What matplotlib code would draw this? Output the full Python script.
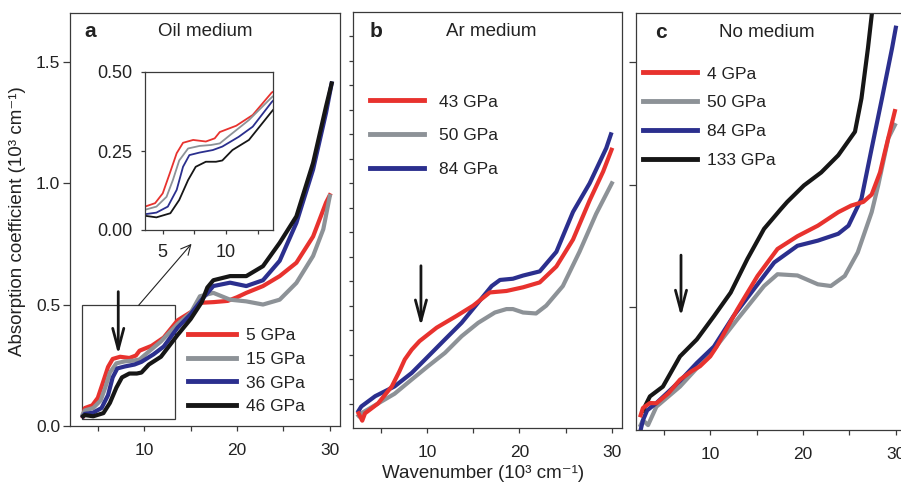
import matplotlib
matplotlib.use("Agg")
import matplotlib.pyplot as plt
from matplotlib.patches import Rectangle

plt.rcParams['font.family'] = ['Liberation Sans', 'DejaVu Sans']

RED = '#e8322e'
GREY = '#8d9297'
BLUE = '#2b2f8e'
BLACK = '#161616'
INK = '#222222'
SPINE = '#3a3a3a'

# ---- panel a : oil medium ----
a_labels = ["5 GPa", "15 GPa", "36 GPa", "46 GPa"]

a5_x = [3.4, 3.6, 4.4, 5.0, 5.56, 6.1, 6.6, 7.4, 8.4, 9.1, 9.5, 10.8, 12.1, 13.6, 15.5, 16.0, 17.5, 19.0, 20.0, 21.0, 22.8, 24.6, 26.4, 28.2, 29.6, 30.0]
a5_y = [0.04, 0.074, 0.085, 0.116, 0.18, 0.243, 0.276, 0.285, 0.28, 0.29, 0.31, 0.33, 0.364, 0.435, 0.48, 0.507, 0.51, 0.515, 0.53, 0.548, 0.576, 0.617, 0.672, 0.78, 0.92, 0.95]

a15_x = [3.4, 3.6, 4.5, 5.3, 5.8, 6.3, 7.0, 7.9, 8.8, 9.5, 10.3, 11.8, 13.6, 15.0, 16.0, 17.45, 19.25, 21.0, 22.8, 24.6, 26.4, 28.2, 29.3, 30.0]
a15_y = [0.05, 0.064, 0.074, 0.105, 0.158, 0.22, 0.258, 0.266, 0.269, 0.274, 0.30, 0.348, 0.42, 0.465, 0.534, 0.548, 0.52, 0.513, 0.50, 0.52, 0.589, 0.70, 0.81, 0.946]

a36_x = [3.4, 3.6, 4.5, 5.4, 6.1, 6.6, 7.1, 7.9, 8.95, 9.7, 11.0, 12.1, 13.6, 15.0, 16.2, 17.45, 19.25, 21.0, 22.8, 24.6, 26.4, 28.2, 29.6, 30.2]
a36_y = [0.04, 0.05, 0.055, 0.074, 0.127, 0.2, 0.237, 0.245, 0.253, 0.264, 0.295, 0.327, 0.405, 0.46, 0.52, 0.576, 0.59, 0.576, 0.60, 0.68, 0.836, 1.056, 1.29, 1.41]

a46_x = [3.4, 3.6, 4.5, 5.6, 6.3, 7.0, 7.6, 8.4, 9.2, 9.7, 10.5, 11.8, 13.6, 15.0, 16.2, 16.8, 17.45, 19.25, 21.0, 22.8, 24.6, 26.4, 28.2, 29.6, 30.2]
a46_y = [0.04, 0.045, 0.04, 0.053, 0.095, 0.158, 0.2, 0.216, 0.216, 0.22, 0.253, 0.285, 0.375, 0.44, 0.51, 0.57, 0.60, 0.617, 0.617, 0.658, 0.754, 0.863, 1.083, 1.316, 1.41]

# ---- panel b : Ar medium ----
b_labels = ["43 GPa", "50 GPa", "84 GPa"]

b43_x = [2.6, 3.0, 3.3, 4.7, 6.2, 7.0, 7.6, 8.35, 9.2, 11.05, 13.2, 15.0, 16.8, 18.6, 20.4, 22.2, 24.0, 25.8, 27.6, 29.06, 29.97]
b43_y = [0.06, 0.03, 0.06, 0.10, 0.17, 0.23, 0.28, 0.32, 0.355, 0.41, 0.458, 0.50, 0.554, 0.56, 0.575, 0.595, 0.66, 0.77, 0.93, 1.048, 1.137]

b50_x = [2.6, 2.9, 4.7, 6.5, 8.35, 10.1, 11.95, 13.75, 15.55, 17.35, 18.6, 19.3, 20.4, 21.8, 22.9, 24.7, 26.5, 28.3, 30.0]
b50_y = [0.05, 0.06, 0.10, 0.14, 0.198, 0.252, 0.307, 0.375, 0.43, 0.472, 0.486, 0.486, 0.472, 0.468, 0.50, 0.58, 0.72, 0.875, 1.0]

b84_x = [2.6, 2.9, 4.4, 6.5, 8.35, 9.8, 11.95, 13.75, 15.55, 17.0, 17.9, 19.3, 20.4, 22.2, 24.0, 25.8, 27.6, 29.4, 29.9]
b84_y = [0.07, 0.088, 0.13, 0.17, 0.225, 0.28, 0.362, 0.43, 0.513, 0.58, 0.605, 0.61, 0.623, 0.64, 0.72, 0.883, 1.0, 1.144, 1.2]

# ---- panel c : no medium ----
c_labels = ["4 GPa", "50 GPa", "84 GPa", "133 GPa"]

c4_x = [2.5, 2.75, 3.5, 4.2, 5.5, 6.74, 8.0, 8.9, 10.0, 10.7, 12.9, 15.1, 17.25, 19.4, 21.6, 23.8, 25.2, 26.5, 27.4, 28.3, 28.8, 29.9]
c4_y = [0.06, 0.09, 0.11, 0.109, 0.15, 0.205, 0.24, 0.26, 0.30, 0.34, 0.49, 0.628, 0.738, 0.79, 0.833, 0.888, 0.915, 0.93, 0.96, 1.05, 1.13, 1.3]

c50_x = [2.5, 2.75, 3.3, 4.2, 6.74, 10.4, 12.9, 15.8, 17.25, 19.4, 21.6, 23.0, 24.5, 25.9, 27.4, 28.1, 29.2, 29.9]
c50_y = [0.02, 0.04, 0.02, 0.095, 0.177, 0.328, 0.45, 0.587, 0.635, 0.63, 0.594, 0.587, 0.628, 0.724, 0.888, 0.997, 1.19, 1.243]

c84_x = [2.5, 2.75, 3.2, 4.2, 6.74, 8.55, 10.4, 12.5, 14.7, 16.9, 19.4, 21.6, 23.8, 24.9, 26.3, 27.4, 28.5, 29.6, 30.0]
c84_y = [0.0, 0.04, 0.08, 0.11, 0.2, 0.273, 0.34, 0.464, 0.574, 0.683, 0.751, 0.772, 0.8, 0.833, 0.943, 1.148, 1.35, 1.557, 1.64]

c133_x = [2.75, 3.5, 4.9, 6.74, 8.55, 10.4, 12.2, 14.0, 15.8, 17.6, 18.3, 20.1, 21.96, 23.8, 25.6, 26.3, 27.0, 27.4, 27.6]
c133_y = [0.08, 0.137, 0.177, 0.30, 0.369, 0.464, 0.56, 0.697, 0.82, 0.90, 0.93, 0.997, 1.05, 1.12, 1.216, 1.352, 1.557, 1.69, 1.75]


def style_axes(ax):
    for s in ax.spines.values():
        s.set_color(SPINE)
        s.set_linewidth(0.9)
    ax.tick_params(direction='out', length=3.5, width=0.9, color=SPINE,
                   labelcolor=INK, labelsize=12.5)
    ax.set_xlim(2.0, 31.1)
    ax.set_ylim(0, 1.70)
    ax.set_xticks([5, 10, 15, 20, 25, 30])
    ax.set_xticklabels(['', '10', '', '20', '', '30'])
    ax.tick_params(axis='x', pad=9)


def add_legend(ax, handles, labels, anchor, spacing, hlen, hpad):
    leg = ax.legend(handles, labels, loc='upper left', bbox_to_anchor=anchor,
                    frameon=False, fontsize=12.5, handlelength=hlen,
                    handletextpad=hpad, labelspacing=spacing,
                    borderpad=0, borderaxespad=0)
    for t in leg.get_texts():
        t.set_color(INK)
    for ln in leg.get_lines():
        ln.set_linewidth(3.5)
    return leg


def down_arrow(ax, x, y0, y1):
    ax.annotate('', xy=(x, y1), xytext=(x, y0),
                arrowprops=dict(arrowstyle='->,head_length=1.5,head_width=0.4',
                                lw=2.0, color=BLACK, shrinkA=0, shrinkB=0))


fig = plt.figure(figsize=(9.01, 4.83), dpi=100)

ax_a = fig.add_axes([70/901, 57/483, 270/901, 413/483])
ax_b = fig.add_axes([353/901, 55/483, 269/901, 416/483])
ax_c = fig.add_axes([636/901, 53/483, 270/901, 417/483])

# panel a
style_axes(ax_a)
la1, = ax_a.plot(a5_x, a5_y, color=RED, lw=3)
la2, = ax_a.plot(a15_x, a15_y, color=GREY, lw=3)
la3, = ax_a.plot(a36_x, a36_y, color=BLUE, lw=3)
la4, = ax_a.plot(a46_x, a46_y, color=BLACK, lw=3)
ax_a.set_yticks([0, 0.5, 1.0, 1.5])
ax_a.set_yticklabels(['0.0', '0.5', '1.0', '1.5'])
ax_a.tick_params(axis='y', length=5, pad=2)
ax_a.text(0.055, 0.954, 'a', transform=ax_a.transAxes, fontsize=15,
          fontweight='bold', va='center', color=INK)
ax_a.text(0.5, 0.954, 'Oil medium', transform=ax_a.transAxes, fontsize=13.5,
          ha='center', va='center', color=INK)
add_legend(ax_a, [la1, la2, la3, la4], a_labels, (0.437, 0.238), 0.5, 2.75, 0.6)
ax_a.add_patch(Rectangle((3.3, 0.027), 10.0, 0.47, fill=False, lw=0.9, ec=SPINE))
ax_a.annotate('', xy=(15.1, 0.75), xytext=(9.4, 0.497),
              arrowprops=dict(arrowstyle='->,head_length=0.7,head_width=0.35',
                              lw=0.8, color=INK, shrinkA=0, shrinkB=0))
down_arrow(ax_a, 7.2, 0.553, 0.294)

# inset of panel a
ax_in = fig.add_axes([145/901, 253/483, 128/901, 158/483])
for s in ax_in.spines.values():
    s.set_color(SPINE)
    s.set_linewidth(0.9)
ax_in.plot(a5_x, a5_y, color=RED, lw=1.3)
ax_in.plot(a15_x, a15_y, color=GREY, lw=1.3)
ax_in.plot(a36_x, a36_y, color=BLUE, lw=1.3)
ax_in.plot(a46_x, a46_y, color=BLACK, lw=1.3)
ax_in.set_xlim(3.6, 13.7)
ax_in.set_ylim(0, 0.5)
ax_in.set_xticks([5, 7.5, 10, 12.5])
ax_in.set_xticklabels(['5', '', '10', ''])
ax_in.set_yticks([0, 0.25, 0.5])
ax_in.set_yticklabels(['0.00', '0.25', '0.50'])
ax_in.tick_params(direction='out', length=3, width=0.9, color=SPINE,
                  labelcolor=INK, labelsize=13)
ax_in.tick_params(axis='x', pad=7)
ax_in.tick_params(axis='y', pad=6)

# panel b
style_axes(ax_b)
lb2, = ax_b.plot(b50_x, b50_y, color=GREY, lw=3)
lb3, = ax_b.plot(b84_x, b84_y, color=BLUE, lw=3)
lb1, = ax_b.plot(b43_x, b43_y, color=RED, lw=3)
ax_b.set_yticks([i * 0.1 for i in range(1, 17)])
ax_b.set_yticklabels([])
ax_b.tick_params(axis='y', length=3)
ax_b.text(0.063, 0.954, 'b', transform=ax_b.transAxes, fontsize=15,
          fontweight='bold', va='center', color=INK)
ax_b.text(0.513, 0.954, 'Ar medium', transform=ax_b.transAxes, fontsize=13.5,
          ha='center', va='center', color=INK)
add_legend(ax_b, [lb1, lb2, lb3], b_labels, (0.063, 0.802), 1.08, 3.1, 0.9)
down_arrow(ax_b, 9.35, 0.663, 0.416)

# panel c
style_axes(ax_c)
lc2, = ax_c.plot(c50_x, c50_y, color=GREY, lw=3)
lc3, = ax_c.plot(c84_x, c84_y, color=BLUE, lw=3)
lc4, = ax_c.plot(c133_x, c133_y, color=BLACK, lw=3)
lc1, = ax_c.plot(c4_x, c4_y, color=RED, lw=3)
ax_c.set_yticks([0.5, 1.0, 1.5])
ax_c.set_yticklabels([])
ax_c.tick_params(axis='y', length=5)
ax_c.text(0.07, 0.954, 'c', transform=ax_c.transAxes, fontsize=15,
          fontweight='bold', va='center', color=INK)
ax_c.text(0.485, 0.954, 'No medium', transform=ax_c.transAxes, fontsize=13.5,
          ha='center', va='center', color=INK)
add_legend(ax_c, [lc1, lc2, lc3, lc4], c_labels, (0.026, 0.872), 0.79, 3.1, 0.6)
down_arrow(ax_c, 6.85, 0.713, 0.463)

fig.text(18/901, 1 - 221/483, 'Absorption coefficient (10³ cm⁻¹)', rotation=90,
         ha='center', va='center', fontsize=13.5, color=INK)
fig.text(483/901, 1 - 473/483, 'Wavenumber (10³ cm⁻¹)', ha='center',
         va='center', fontsize=13.5, color=INK)

fig.savefig('out.png', dpi=100)
